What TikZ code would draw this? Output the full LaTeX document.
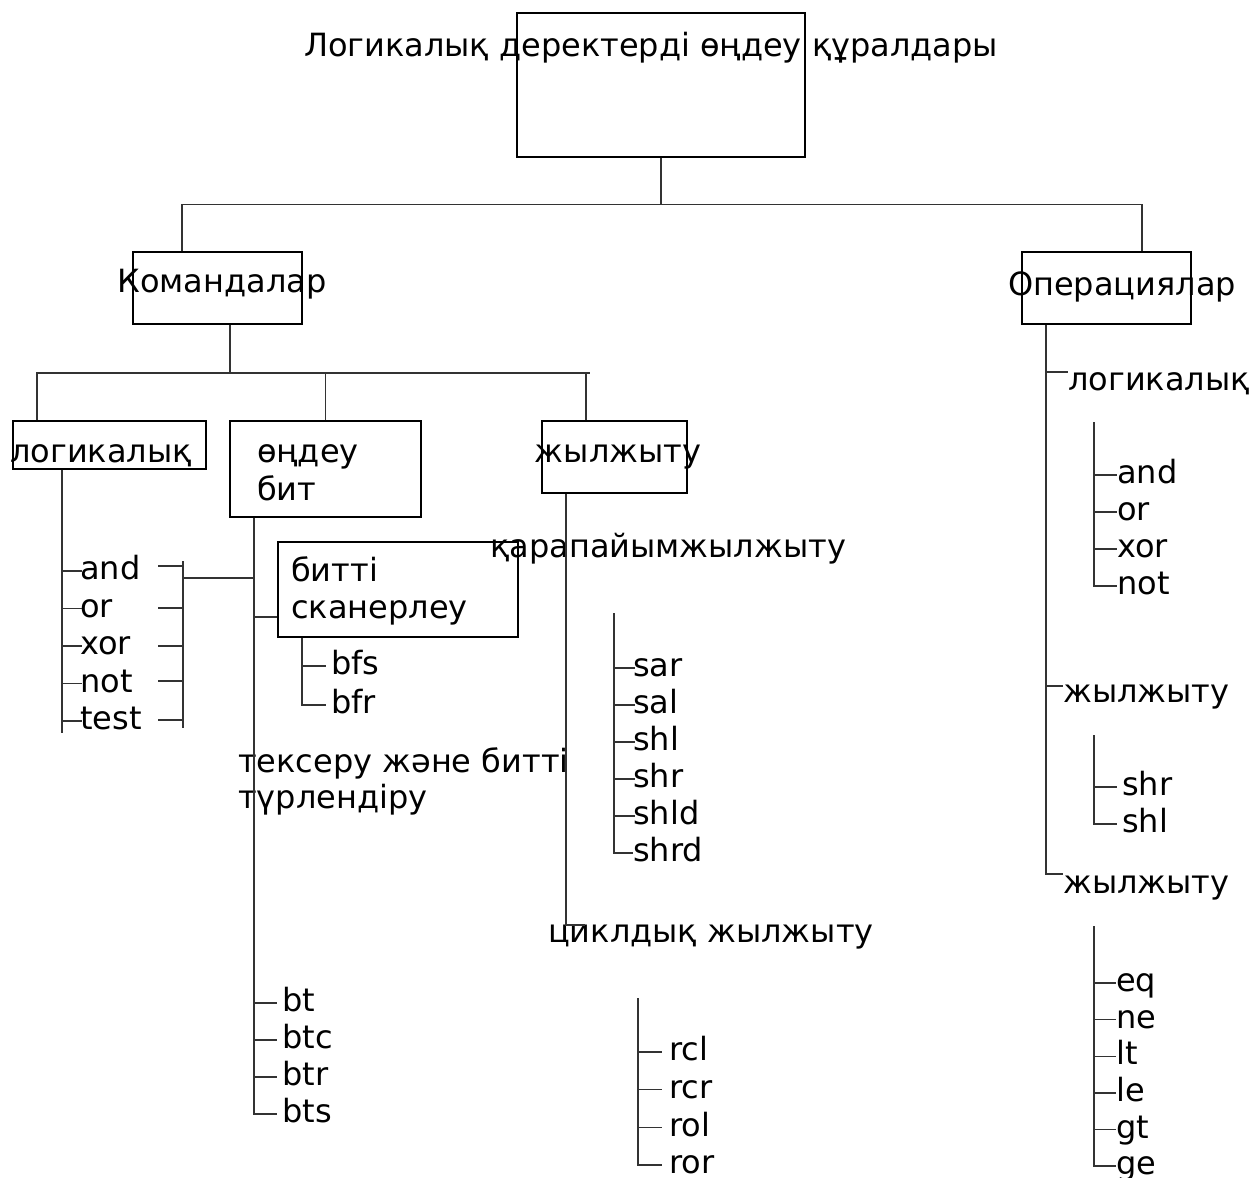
\documentclass[tikz,border=0pt]{standalone}
\usepackage{fontspec}
\setmainfont{DejaVu Sans}
\usetikzlibrary{calc}

\tikzset{
  box/.style={draw=black,line width=1.2pt,inner sep=0pt},
  txt/.style={inner sep=0pt,font=\fontsize{32}{36}\selectfont},
  item/.style={txt,anchor=west,text height=24pt,text depth=6.5pt},
  conn/.style={draw=black!80,line width=1.4pt}
}

\begin{document}
\begin{tikzpicture}[x=1pt,y=-1pt]
  \useasboundingbox (0,0) rectangle (1254,1178);

  % Блоктар
  \node[box,minimum width=288pt,minimum height=144pt] (root) at (661,85) {};
  \node[box,minimum width=169pt,minimum height=72pt] (cmd) at (217.5,288) {};
  \node[box,minimum width=169pt,minimum height=72pt] (ops) at (1106.5,288) {};
  \node[box,minimum width=193pt,minimum height=48pt] (lg) at (109.5,445) {};
  \node[box,minimum width=191pt,minimum height=96pt] (bit) at (325.5,469) {};
  \node[box,minimum width=145pt,minimum height=72pt] (sh) at (614.5,457) {};
  \node[box,minimum width=240pt,minimum height=95pt] (scan) at (398,589.5) {};

  % Жазулар
  \node[txt,anchor=base] (rootT) at (651,56) {Логикалық деректерді өңдеу құралдары};
  \node[txt,anchor=base] (cmdT) at (222,292) {Командалар};
  \node[txt,anchor=base] (opsT) at (1122,295) {Операциялар};
  \node[txt,anchor=base] (lgT) at (101,462) {логикалық};
  \node[txt,anchor=base west] (bitT) at (257,462) {өңдеу};
  \node[txt,anchor=base west] (bitTb) at (257,500) {бит};
  \node[txt,anchor=base] (shT) at (618,462) {жылжыту};
  \node[txt,anchor=base west] (scanT) at (291,581) {битті};
  \node[txt,anchor=base west] (scanTb) at (291,618) {сканерлеу};
  \node[txt,anchor=base west] (simp) at (490,557) {қарапайымжылжыту};
  \node[txt,anchor=base west] (test) at (238,772) {тексеру және битті};
  \node[txt,anchor=base west] (testb) at (238,808) {түрлендіру};
  \node[txt,anchor=base west] (cyc) at (548,942) {циклдық жылжыту};
  \node[txt,anchor=base west] (olog) at (1068,390) {логикалық};
  \node[txt,anchor=base west] (osh) at (1063,702) {жылжыту};
  \node[txt,anchor=base west] (ocmp) at (1063,893) {жылжыту};

  % Жоғарғы тармақ
  \draw[conn] (root.south) -- ++(0,47) coordinate (rb);
  \draw[conn] ([xshift=-35.5pt]cmd.north) |- (rb) -| ([xshift=35.5pt]ops.north);

  % Командалар тармағы
  \coordinate (cbL) at (36,373);
  \coordinate (cbR) at (590,373);
  \draw[conn] (cbL) -- (cbR);
  \draw[conn] ([xshift=12.5pt]cmd.south) -- ([xshift=12.5pt]cmd.south |- cbL);
  \draw[conn] ([xshift=-72.5pt]lg.north) -- ([xshift=-72.5pt]lg.north |- cbL);
  \draw[conn] (bit.north) -- (bit.north |- cbL);
  \draw[conn] ([xshift=-28.5pt]sh.north) -- ([xshift=-28.5pt]sh.north |- cbL);

  % логикалық командалар
  \coordinate (lv) at ([xshift=-47.5pt]lg.south);
  \draw[conn] (lv) -- ++(0,263);
  \foreach \t [count=\i from 0] in {and,or,xor,not,test}{
    \node[item] (lc\i) at (80,{571+37.5*\i}) {\t};
    \draw[conn] (lc\i.west -| lv) -- ([xshift=2pt]lc\i.west);
  }

  % бос тарақ
  \foreach \y in {566,608,646,681,720}
    \draw[conn] (158,\y) -- (183,\y);
  \draw[conn] (183,561) -- (183,728);
  \draw[conn] (183,578) -- (254,578);

  % өңдеу бит
  \coordinate (bv) at ([xshift=-71.5pt]bit.south);
  \draw[conn] ([yshift=-27.5pt]scan.west -| bv) -- ([yshift=-27.5pt]scan.west);
  \foreach \t [count=\i from 0] in {bt,btc,btr,bts}
    \node[item] (bt\i) at (282,{1003+37*\i}) {\t};
  \draw[conn] (bv) |- ([xshift=-5pt]bt3.west);
  \foreach \i in {0,1,2}
    \draw[conn] (bt\i.west -| bv) -- ([xshift=-5pt]bt\i.west);

  % битті сканерлеу
  \coordinate (sv) at ([xshift=-96pt]scan.south);
  \node[item] (bf0) at (331,666) {bfs};
  \node[item] (bf1) at (331,705) {bfr};
  \draw[conn] (sv) |- ([xshift=-5pt]bf1.west);
  \draw[conn] (bf0.west -| sv) -- ([xshift=-5pt]bf0.west);

  % жылжыту
  \draw[conn] ([xshift=-48.5pt]sh.south) |- ([xshift=37pt,yshift=17pt]cyc.base west);
  \coordinate (pv) at (614,613);
  \foreach \t [count=\i from 0] in {sar,sal,shl,shr,shld,shrd}
    \node[item] (sa\i) at (633,{668+37*\i}) {\t};
  \draw[conn] (pv) |- (sa5.west);
  \foreach \i in {0,...,4}
    \draw[conn] (sa\i.west -| pv) -- ([xshift=2pt]sa\i.west);
  \coordinate (cv) at (638,998);
  \foreach \t [count=\i from 0] in {rcl,rcr,rol,ror}
    \node[item] (rc\i) at (669,{1052+37.7*\i}) {\t};
  \draw[conn] (cv) |- ([xshift=-7pt]rc3.west);
  \foreach \i in {0,1,2}
    \draw[conn] (rc\i.west -| cv) -- ([xshift=-7pt]rc\i.west);

  % Операциялар
  \coordinate (ov) at ([xshift=-60.5pt]ops.south);
  \draw[conn] (ov) |- ([yshift=19pt]ocmp.base west);
  \draw[conn] ([yshift=18pt]olog.base west -| ov) -- ([yshift=18pt]olog.base west);
  \draw[conn] ([yshift=16pt]osh.base west -| ov) -- ([yshift=16pt]osh.base west);

  \coordinate (ol) at (1094,422);
  \foreach \t [count=\i from 0] in {and,or,xor,not}
    \node[item] (ol\i) at (1117,{475+37*\i}) {\t};
  \draw[conn] (ol) |- (ol3.west);
  \foreach \i in {0,1,2}
    \draw[conn] (ol\i.west -| ol) -- (ol\i.west);

  \coordinate (os) at (1094,735);
  \node[item] (os0) at (1122,787) {shr};
  \node[item] (os1) at (1122,824) {shl};
  \draw[conn] (os) |- ([xshift=-5pt]os1.west);
  \draw[conn] (os0.west -| os) -- ([xshift=-5pt]os0.west);

  \coordinate (oc) at (1094,926);
  \foreach \t [count=\i from 0] in {eq,ne,lt,le,gt,ge}
    \node[item] (oc\i) at (1116,{983+36.6*\i}) {\t};
  \draw[conn] (oc) |- (oc5.west);
  \foreach \i in {0,...,4}
    \draw[conn] (oc\i.west -| oc) -- (oc\i.west);
\end{tikzpicture}
\end{document}
